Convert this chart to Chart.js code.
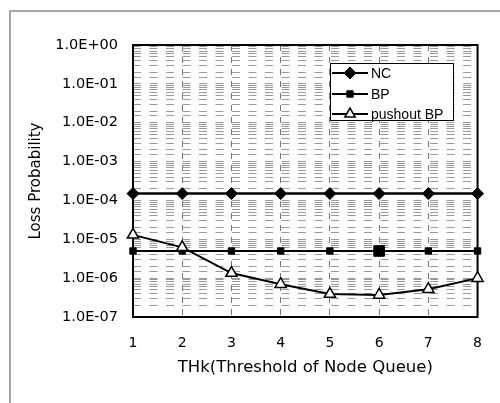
<!DOCTYPE html>
<html>
<head>
<meta charset="utf-8">
<script src="https://cdn.jsdelivr.net/npm/chart.js@4.4.0/dist/chart.umd.min.js"></script>
<style>
  html, body { margin: 0; padding: 0; background: #fff; }
</style>
</head>
<body>
<canvas id="lossChart" width="500" height="403"></canvas>
<script>
// data
var thresholds = [1, 2, 3, 4, 5, 6, 7, 8];
var ncLoss = [1.5e-4, 1.5e-4, 1.5e-4, 1.5e-4, 1.5e-4, 1.5e-4, 1.5e-4, 1.5e-4];
var bpLoss = [5e-6, 5e-6, 5e-6, 5e-6, 5e-6, 5e-6, 5e-6, 5e-6];
var pushoutLoss = [1.3e-5, 6.2e-6, 1.35e-6, 7e-7, 3.9e-7, 3.7e-7, 5.2e-7, 1.0e-6];
var seriesNames = ['NC', 'BP', 'pushout BP'];
var decadeLabels = ['1.0E-07', '1.0E-06', '1.0E-05', '1.0E-04', '1.0E-03', '1.0E-02', '1.0E-01', '1.0E+00'];

function pts(vals) {
  return thresholds.map(function (t, i) { return { x: t, y: vals[i] }; });
}

// frame around the whole figure + plot border
var framePlugin = {
  id: 'frame',
  beforeDraw: function (chart) {
    var ctx = chart.ctx;
    ctx.save();
    ctx.fillStyle = '#fff';
    ctx.fillRect(0, 0, chart.width, chart.height);
    ctx.strokeStyle = '#8a8a8a';
    ctx.lineWidth = 1.5;
    ctx.beginPath();
    ctx.moveTo(10, 403);
    ctx.lineTo(10, 11);
    ctx.lineTo(500, 11);
    ctx.stroke();
    ctx.restore();
  },
  beforeDatasetsDraw: function (chart) {
    var a = chart.chartArea, ctx = chart.ctx;
    ctx.save();
    ctx.strokeStyle = '#000';
    ctx.lineWidth = 2;
    ctx.strokeRect(a.left, a.top, a.right - a.left, a.bottom - a.top);
    ctx.restore();
  }
};

// boxed legend inside the plot
var legendBox = {
  id: 'legendBox',
  afterDatasetsDraw: function (chart) {
    var ctx = chart.ctx;
    var bx = 330, by = 63, bw = 123, bh = 57;
    ctx.save();
    ctx.fillStyle = '#fff';
    ctx.fillRect(bx, by, bw, bh);
    ctx.strokeStyle = '#000';
    ctx.lineWidth = 1;
    ctx.strokeRect(bx + 0.5, by + 0.5, bw, bh);
    var rows = [73, 94, 114];
    chart.data.datasets.forEach(function (ds, i) {
      var y = rows[i];
      ctx.strokeStyle = '#000';
      ctx.lineWidth = 2;
      ctx.beginPath();
      ctx.moveTo(332, y);
      ctx.lineTo(368, y);
      ctx.stroke();
      ctx.fillStyle = ds.pointBackgroundColor;
      ctx.strokeStyle = '#000';
      ctx.lineWidth = ds.pointBorderWidth;
      Chart.helpers.drawPoint(ctx, {
        pointStyle: ds.pointStyle,
        radius: ds.legendRadius,
        rotation: 0,
        borderWidth: ds.pointBorderWidth
      }, 350, y);
      ctx.fillStyle = '#000';
      ctx.font = '14px "Liberation Sans", Arial, sans-serif';
      ctx.textBaseline = 'middle';
      ctx.textAlign = 'left';
      ctx.fillText(ds.label, 371, y + 1);
    });
    ctx.restore();
  }
};

var ctxL = document.getElementById('lossChart').getContext('2d');
var lossChart = new Chart(ctxL, {
  type: 'line',
  data: {
    datasets: [{
      label: seriesNames[0],
      data: pts(ncLoss),
      clip: false,
      borderColor: '#000',
      borderWidth: 2.5,
      pointStyle: 'rectRot',
      pointRadius: 6,
      legendRadius: 6,
      pointBackgroundColor: '#000',
      pointBorderColor: '#000',
      pointBorderWidth: 1
    }, {
      label: seriesNames[1],
      data: pts(bpLoss),
      clip: false,
      borderColor: '#000',
      borderWidth: 2,
      pointStyle: 'rect',
      pointRadius: [4.5, 4.5, 4.5, 4.5, 4.5, 7.5, 4.5, 4.5],
      legendRadius: 4.5,
      pointBackgroundColor: '#000',
      pointBorderColor: '#000',
      pointBorderWidth: 1
    }, {
      label: seriesNames[2],
      data: pts(pushoutLoss),
      clip: false,
      borderColor: '#000',
      borderWidth: 2,
      pointStyle: 'triangle',
      pointRadius: 6.5,
      legendRadius: 6,
      pointBackgroundColor: '#fff',
      pointBorderColor: '#000',
      pointBorderWidth: 1.5,
      order: -1
    }]
  },
  options: {
    responsive: false,
    animation: false,
    layout: { padding: { left: 10, top: 45, right: 22, bottom: 0 } },
    plugins: { legend: { display: false }, tooltip: { enabled: false } },
    scales: {
      x: {
        type: 'linear',
        min: 1,
        max: 8,
        afterFit: function (s) { s.height = 86; },
        ticks: {
          stepSize: 1,
          padding: 18,
          color: '#000',
          font: { family: '"DejaVu Sans", sans-serif', size: 14 }
        },
        grid: { color: '#777', lineWidth: 1, drawTicks: false },
        border: { display: false, dash: [6, 6] },
        title: {
          display: true,
          text: 'THk(Threshold of Node Queue)',
          color: '#000',
          padding: { top: 0, bottom: 25 },
          font: { family: '"DejaVu Sans", sans-serif', size: 16.5 }
        }
      },
      y: {
        type: 'logarithmic',
        min: 1e-7,
        max: 1,
        afterFit: function (s) { s.width = 123; },
        ticks: {
          autoSkip: false,
          padding: 15,
          color: '#000',
          font: { family: '"DejaVu Sans", sans-serif', size: 14.5 },
          callback: function (v) {
            var e = Math.log10(v);
            if (Math.abs(e - Math.round(e)) > 1e-6) return '';
            return decadeLabels[Math.round(e) + 7];
          }
        },
        grid: { color: '#9a9a9a', lineWidth: 1, drawTicks: false },
        border: { display: false, dash: [8, 8.5] },
        title: {
          display: true,
          text: 'Loss Probability',
          color: '#000',
          padding: { top: 17, bottom: 0 },
          font: { family: '"DejaVu Sans", sans-serif', size: 15 }
        }
      }
    }
  },
  plugins: [framePlugin, legendBox]
});
</script>
</body>
</html>
